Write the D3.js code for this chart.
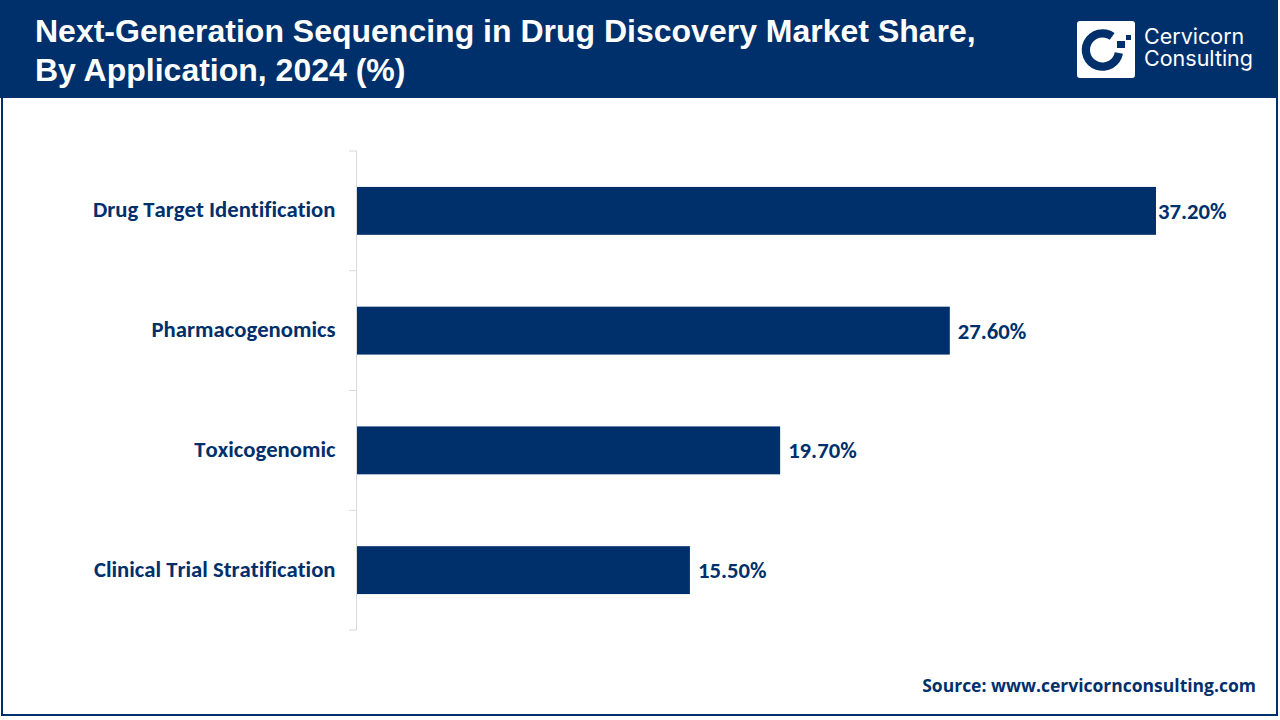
<!DOCTYPE html>
<html>
<head>
<meta charset="utf-8">
<script src="https://cdn.jsdelivr.net/npm/d3@7"></script>
<style>
  html, body { margin: 0; padding: 0; background: #fff; }
  svg { display: block; }
</style>
</head>
<body>
<script>
var categories = ["Drug Target Identification", "Pharmacogenomics", "Toxicogenomic", "Clinical Trial Stratification"];
var values = [37.2, 27.6, 19.7, 15.5];
var titleLines = ["Next-Generation Sequencing in Drug Discovery Market Share,", "By Application, 2024 (%)"];
var logoLines = ["Cervicorn", "Consulting"];
var sourceText = "Source: www.cervicornconsulting.com";

var navy = "#00306b";
var width = 1280, height = 720;

var svg = d3.select("body").append("svg")
    .attr("width", width)
    .attr("height", height);

// frame + header
svg.append("rect").attr("x", 2).attr("y", 1).attr("width", 1275).attr("height", 714)
    .attr("fill", "#fff").attr("stroke", navy).attr("stroke-width", 2);
svg.append("rect").attr("x", 0).attr("y", 0).attr("width", 1278).attr("height", 98).attr("fill", navy);

svg.append("g").selectAll("text")
    .data(titleLines)
    .enter().append("text")
    .attr("x", 35)
    .attr("y", function (d, i) { return 42 + i * 39; })
    .attr("fill", "#fff")
    .style("font-family", "'Liberation Sans'")
    .style("font-weight", 700)
    .style("font-size", "32px")
    .text(function (d) { return d; });

// logo
var logo = svg.append("g");
logo.append("rect").attr("x", 1077).attr("y", 21).attr("width", 58).attr("height", 57).attr("rx", 3).attr("fill", "#fff");
var ring = d3.arc().innerRadius(12.5).outerRadius(20.8);
logo.append("path")
    .attr("transform", "translate(1102.5,50)")
    .attr("d", ring({ startAngle: 1.75, endAngle: 2 * Math.PI + 0.62 }))
    .attr("fill", navy);
logo.append("rect").attr("x", 1117).attr("y", 41).attr("width", 8).attr("height", 7).attr("fill", navy);
logo.append("rect").attr("x", 1126).attr("y", 35).attr("width", 5).attr("height", 5).attr("fill", navy);
logo.selectAll("text")
    .data(logoLines)
    .enter().append("text")
    .attr("x", 1144)
    .attr("y", function (d, i) { return 44 + i * 22; })
    .attr("fill", "#fff")
    .style("font-family", "Inter")
    .style("font-size", "21.5px")
    .text(function (d) { return d; });

// scales
var x = d3.scaleLinear().domain([0, 37.2]).range([357, 1156]);
var y = d3.scaleBand().domain(categories).range([151, 630]).paddingInner(0.6).paddingOuter(0.3);
var bandEdges = d3.range(categories.length + 1).map(function (i) { return 151 + i * y.step(); });

// axis line and ticks between the categories
var axis = svg.append("g");
axis.append("line")
    .attr("x1", 356.5).attr("x2", 356.5).attr("y1", 151).attr("y2", 630)
    .attr("stroke", "#d9d9d9");
axis.selectAll("line.tick")
    .data(bandEdges)
    .enter().append("line")
    .attr("class", "tick")
    .attr("x1", 349).attr("x2", 357)
    .attr("y1", function (d) { return d; })
    .attr("y2", function (d) { return d; })
    .attr("stroke", "#d9d9d9");

// bars
svg.append("g").selectAll("rect")
    .data(values)
    .enter().append("rect")
    .attr("x", x(0))
    .attr("y", function (d, i) { return y(categories[i]); })
    .attr("width", function (d) { return x(d) - x(0); })
    .attr("height", y.bandwidth())
    .attr("fill", navy);

var labelFont = "Carlito, Lato, 'Open Sans', sans-serif";

// category labels
svg.append("g").selectAll("text")
    .data(categories)
    .enter().append("text")
    .attr("x", 335.5)
    .attr("y", function (d) { return y(d) + y.bandwidth() / 2 + 6.5; })
    .attr("text-anchor", "end")
    .attr("fill", navy)
    .style("font-family", labelFont)
    .style("font-weight", 700)
    .style("font-size", "22.7px")
    .style("font-variant-ligatures", "none")
    .style("font-kerning", "none")
    .text(function (d) { return d; });

// value labels
svg.append("g").selectAll("text")
    .data(values)
    .enter().append("text")
    .attr("x", function (d, i) { return i == 0 ? x(d) + 2 : x(d) + 8; })
    .attr("y", function (d, i) { return y(categories[i]) + y.bandwidth() / 2 + 8; })
    .attr("fill", navy)
    .style("font-family", labelFont)
    .style("font-weight", 700)
    .style("font-size", "22.7px")
    .text(function (d) { return d.toFixed(2) + "%"; });

// source
svg.append("text")
    .attr("x", 1256)
    .attr("y", 692)
    .attr("text-anchor", "end")
    .attr("fill", navy)
    .style("font-family", "'Open Sans'")
    .style("font-weight", 700)
    .style("font-size", "17.5px")
    .text(sourceText);
</script>
</body>
</html>
